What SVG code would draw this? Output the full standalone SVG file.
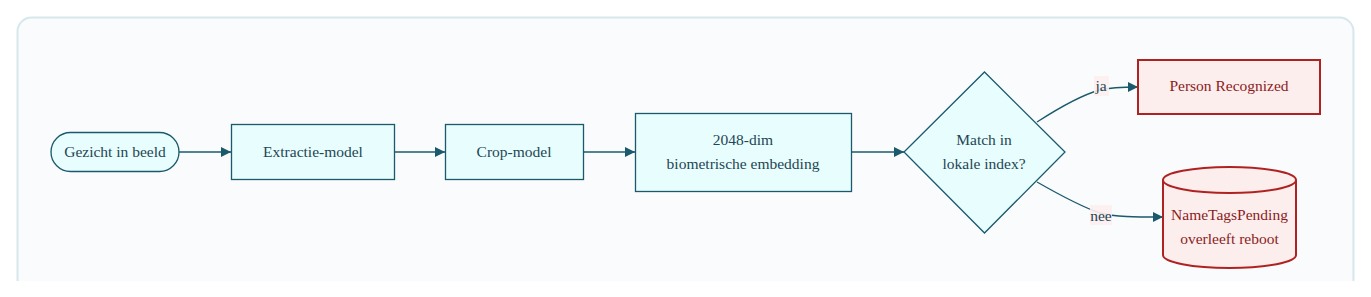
<svg xmlns="http://www.w3.org/2000/svg" width="1371" height="297" viewBox="0 0 1371 297">
<defs>
<style>
.n{fill:#e8fdfd;stroke:#1b5a6c;stroke-width:1.3}
.r{fill:#fdeeee;stroke:#b02222;stroke-width:2}
.t{font-family:"Liberation Serif",serif;font-size:15.5px;fill:#1e4654;text-anchor:middle}
.tr{font-family:"Liberation Serif",serif;font-size:15.5px;fill:#8b1c1c;text-anchor:middle}
.e{fill:none;stroke:#1b5a6c;stroke-width:1.3}
.lb{fill:#fdeeee;opacity:0.9}
</style>
<marker id="a" viewBox="0 0 10 10" refX="10" refY="5" markerWidth="10" markerHeight="10" markerUnits="userSpaceOnUse" orient="auto">
<path d="M0,0 L10,5 L0,10 z" fill="#1b5a6c"/>
</marker>
<clipPath id="c"><rect x="0" y="0" width="1371" height="281"/></clipPath>
</defs>
<rect width="1371" height="297" fill="#ffffff"/>
<rect x="17.5" y="17.5" width="1336" height="320" rx="14" fill="#f9fbfd" stroke="#d6e8ec" stroke-width="2" clip-path="url(#c)"/>
<g id="connectors">
<path class="e" d="M179,152 L231,152" marker-end="url(#a)"/>
<path class="e" d="M394,152 L445,152" marker-end="url(#a)"/>
<path class="e" d="M583,152 L635,152" marker-end="url(#a)"/>
<path class="e" d="M851,152 L904,152" marker-end="url(#a)"/>
<path class="e" d="M1037,122 C1065,104 1085,94 1100,90 C1112,87 1125,87 1138,87" marker-end="url(#a)"/>
<path class="e" d="M1037,182 C1065,198 1085,208 1100,213 C1115,217 1135,217 1163,217" marker-end="url(#a)"/>
<rect class="lb" x="1094" y="76" width="15" height="20"/>
<text class="t" x="1101" y="91">ja</text>
<rect class="lb" x="1090" y="205" width="22" height="20"/>
<text class="t" x="1101" y="221">nee</text>
</g>
<g id="n1">
<rect class="n" x="51" y="132.5" width="128" height="39" rx="19.5"/>
<text class="t" x="115" y="157">Gezicht in beeld</text>
</g>
<g id="n2">
<rect class="n" x="231.5" y="124.5" width="163" height="55"/>
<text class="t" x="313" y="157">Extractie-model</text>
</g>
<g id="n3">
<rect class="n" x="445.5" y="124.5" width="138" height="55"/>
<text class="t" x="514" y="157">Crop-model</text>
</g>
<g id="n4">
<rect class="n" x="635.5" y="113.5" width="216" height="78"/>
<text class="t" x="743" y="145">2048-dim</text>
<text class="t" x="743" y="169">biometrische embedding</text>
</g>
<g id="n5">
<polygon class="n" points="984.5,72 1065,152 984.5,233 904,152"/>
<text class="t" x="984" y="145">Match in</text>
<text class="t" x="984" y="169">lokale index?</text>
</g>
<g id="n6">
<rect class="r" x="1138" y="60" width="182" height="54"/>
<text class="tr" x="1229" y="91">Person Recognized</text>
</g>
<g id="n7">
<path class="r" d="M1163,180 A66.5,13 0 0 1 1296,180 L1296,255 A66.5,13 0 0 1 1163,255 Z"/>
<path class="r" fill="none" d="M1163,180 A66.5,13 0 0 0 1296,180"/>
<text class="tr" x="1229.5" y="220">NameTagsPending</text>
<text class="tr" x="1229.5" y="244">overleeft reboot</text>
</g>
</svg>
